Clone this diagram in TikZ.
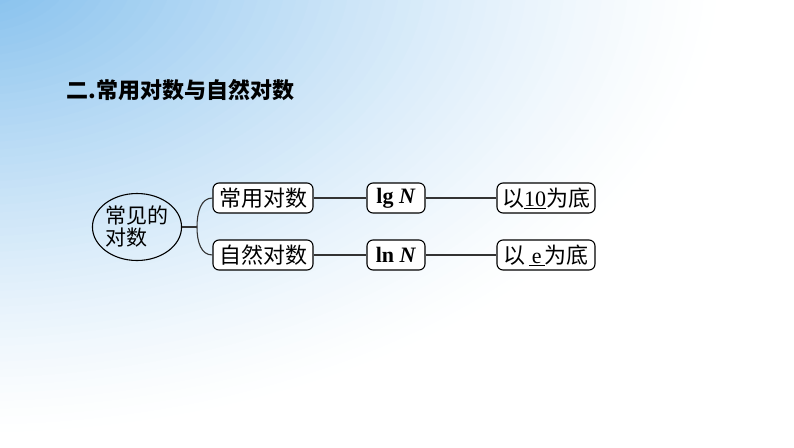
\documentclass[tikz,border=0pt]{standalone}
\usepackage{fontspec}
\setmainfont{Liberation Serif}
\newfontfamily\cjk{Noto Sans CJK SC}
\usetikzlibrary{shapes.geometric}
\definecolor{bgblue}{RGB}{125,188,236}
\tikzset{
  box/.style={draw=black, line width=1.1pt, rounded corners=6pt, fill=white,
    inner xsep=3pt, inner ysep=0pt, minimum height=30pt, font=\fontsize{20}{22}\selectfont},
  conn/.style={line width=1.1pt, draw=black!80}
}
\begin{document}
\begin{tikzpicture}[x=1pt,y=-1pt]
\useasboundingbox (0,0) rectangle (794,447);
\begin{scope}
\clip (0,0) rectangle (794,447);
\fill[white] (0,0) rectangle (794,447);
\foreach \i in {0,...,59}{
  \pgfmathsetmacro\p{100*(\i/60)^1.3}
  \pgfmathsetmacro\rx{760*(1-\i/60)}
  \pgfmathsetmacro\ry{470*(1-\i/60)}
  \fill[bgblue!\p!white] (-30,-30) ellipse [x radius=\rx, y radius=\ry];
}
\end{scope}
\node[anchor=west, font=\cjk\bfseries\fontsize{22}{24}\selectfont] (title) at (63,90) {二.常用对数与自然对数};
\node[ellipse, draw=black, line width=1.1pt, minimum width=84pt, minimum height=67pt, inner sep=0pt,
  align=left, font=\cjk\fontsize{21}{22}\selectfont] (root) at (137,227) {常见的\\对数};
\node[box, font=\cjk\fontsize{22}{22}\selectfont, minimum width=100pt] (b1) at (263,198) {常用对数};
\node[box, font=\cjk\fontsize{22}{22}\selectfont, minimum width=100pt] (b2) at (263,255) {自然对数};
\node[box, minimum width=58pt, font=\bfseries\fontsize{22}{22}\selectfont] (lg) at (396,198) {lg \textit{N}};
\node[box, minimum width=58pt, font=\bfseries\fontsize{22}{22}\selectfont] (ln) at (396,255) {ln \textit{N}};
\node[box, minimum width=98pt, inner xsep=1pt, font=\fontsize{22}{22}\selectfont] (c1) at (546,198) {{\cjk 以}\underline{10}{\cjk 为底}};
\node[box, minimum width=98pt, inner xsep=1pt, font=\fontsize{22}{22}\selectfont] (c2) at (546,255) {{\cjk 以}\,\underline{\hspace{3pt}e\hspace{3pt}}{\cjk 为底}};
\coordinate (br) at (197,227);
\draw[conn] (root.east) -- (br);
\draw[conn] (b1.west) .. controls (201,198) and (197,212) .. (br);
\draw[conn] (b2.west) .. controls (201,255) and (197,242) .. (br);
\draw[conn] (b1.east) -- (lg.west);
\draw[conn] (lg.east) -- (c1.west);
\draw[conn] (b2.east) -- (ln.west);
\draw[conn] (ln.east) -- (c2.west);
\end{tikzpicture}
\end{document}
